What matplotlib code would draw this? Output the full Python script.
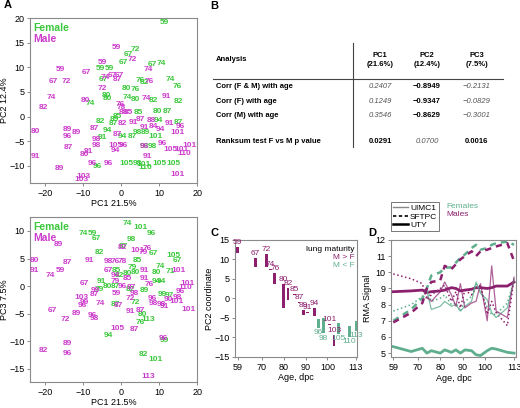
import matplotlib
matplotlib.use("Agg")
import matplotlib.pyplot as plt
from matplotlib.lines import Line2D

plt.rcParams['font.family'] = ['Liberation Sans', 'DejaVu Sans']

# colours
GREEN_A = "#3cc83c"
MAGENTA_A = "#cc3ccc"
PURPLE = "#8c1f6e"
TEAL = "#5fae8e"
SPINE = "#8a8a8a"

# Panel A top: PC1 vs PC2
top_f_x = [11.5, 3.7, 1.8, 0.6, -5.6, -3.1, -4.7, 8.1, 10.6, 13.0, 14.8, 5.0, 6.1, 1.5, 3.7, -4.0, -3.5, 1.5,
           3.7, 8.6, 15.2, -8.2, 9.5, 12.1, 4.6, -0.9, -1.8, -5.6, -2.0, -3.5, 15.2, 9.9, 4.2, 6.5, -4.9, 0.4,
           3.0, 9.0, 8.1, 6.0, -6.2, 1.5, 4.2, 6.0, 6.4, 10.2, 13.8]
top_f_y = [19.1, 13.6, 12.7, 11.0, 9.8, 9.8, 7.6, 10.5, 10.7, 7.6, 6.2, 7.4, 7.0, 5.7, 5.6, 4.2, 3.6, 3.8,
           3.4, 3.3, 3.1, 2.6, 1.0, 1.0, 0.9, 0.0, -0.6, -1.0, -1.5, -2.9, -1.2, -0.8, -3.3, -3.3, -4.2, -4.1,
           -4.0, -4.0, -6.0, -6.0, -10.1, -9.6, -9.5, -9.7, -10.3, -9.5, -9.6]
top_f_lab = ['59', '72', '67', '67', '59', '59', '67', '67', '74', '74', '76', '76', '82', '80', '76', '80', '80', '74',
             '80', '82', '82', '74', '80', '87', '85', '85', '89', '82', '87', '94', '87', '94', '98', '89', '91', '94',
             '87', '101', '98', '98', '96', '105', '98', '101', '110', '105', '105']

top_m_x = [-1.4, 2.8, -4.9, -15.9, -9.3, -17.9, -14.6, 7.1, -4.3, -2.2, -0.4, -1.0, -4.9, 7.4, -18.4, -20.6,
           -9.3, 6.6, 11.8, -0.2, 0.0, 2.0, 0.5, -22.6, -14.1, -11.7, -14.1, -7.1, 0.2, 3.1, 5.0, 8.0, 6.2, 8.6,
           10.4, 12.6, 15.6, 14.8, -6.6, -6.6, -1.0, 6.2, 10.9, 13.1, 16.0, 16.5, 17.9, -1.6, 0.6, -1.6, -13.9,
           -8.7, -9.6, -22.6, -7.5, -3.4, -16.3, 6.8, 14.8, -10.0, -10.4]
top_m_y = [14.0, 11.5, 11.0, 9.5, 8.9, 7.1, 7.1, 9.6, 8.0, 8.4, 8.4, 7.6, 5.7, 7.2, 3.9, 1.8,
           3.2, 3.7, 4.0, 2.5, 1.8, 0.8, 0.9, -3.1, -2.7, -3.2, -4.0, -2.4, -1.5, -1.3, -0.6, -0.9, -2.2, -2.1,
           -2.6, -1.5, -2.0, -3.2, -4.6, -5.8, -3.6, -6.0, -5.4, -6.7, -6.6, -7.5, -5.8, -5.9, -5.9, -6.8, -6.3,
           -7.2, -7.7, -8.2, -9.6, -9.6, -10.6, -8.1, -11.8, -12.1, -12.7]
top_m_lab = ['59', '72', '59', '59', '67', '67', '72', '74', '74', '67', '67', '87', '72', '76', '74', '82',
             '80', '74', '91', '76', '78', '85', '88', '80', '89', '89', '96', '87', '82', '91', '87', '88', '91', '84',
             '94', '91', '96', '101', '98', '98', '87', '96', '96', '105', '101', '110', '101', '105', '96', '94', '87',
             '91', '80', '91', '96', '96', '89', '91', '101', '103', '103']

# Panel A bottom: PC1 vs PC3
bot_f_x = [1.5, 5.0, 7.9, -10.0, -7.5, -6.5, 2.8, -5.7, 0.5, 13.7, 14.8, 8.6, 4.2, 10.2, 13.0, 9.4, 3.0, 3.8,
           -1.2, -0.4, 1.6, -5.1, -3.5, -1.5, 6.1, 9.3, 10.5, 2.4, 10.8, 12.6, -1.6, 3.7, 5.5, 7.2, 5.1, -3.4,
           11.3, 5.9, 9.0, -5.9]
bot_f_y = [11.3, 10.6, 9.6, 9.5, 9.5, 8.6, 8.5, 6.1, 7.2, 5.6, 4.7, 5.9, 4.7, 3.5, 2.7, 2.4, 3.3, 2.5,
           2.8, 2.0, 2.3, 0.8, 0.0, 0.0, -0.8, 0.8, 0.8, -0.7, -1.6, -1.7, -3.4, -3.0, -5.2, -6.0, -6.6, -9.0,
           -9.9, -12.5, -13.4, -0.6]
bot_f_lab = ['74', '101', '96', '74', '59', '67', '98', '82', '87', '105', '67', '67', '85', '74', '71', '80', '79', '80',
             '85', '82', '80', '91', '80', '87', '89', '94', '94', '82', '99', '97', '87', '72', '80', '113', '76', '94',
             '99', '82', '101', '79']

bot_m_x = [-16.6, -22.8, -22.8, -14.2, -8.5, -18.6, -15.9, -9.7, 0.2, 4.2, 6.8, 5.8, -3.4, -1.5, 0.3, -3.4,
           -1.6, 1.5, 6.2, 6.2, 15.2, 17.4, 17.0, 0.3, 2.8, 7.5, -6.9, -10.6, -7.0, -9.6, -10.2, -5.6, -1.3, 2.4,
           3.6, 8.3, 8.4, 10.5, 11.5, 14.7, 15.5, 12.5, 14.5, 17.8, -18.2, -14.8, -11.7, -7.5, -7.2, 2.5, 5.0,
           3.4, -1.1, 11.2, -20.6, -14.1, -14.1, 7.2, -1.6, -0.8]
bot_m_y = [7.5, 4.7, 2.8, 4.2, 4.7, 2.0, 2.8, 0.5, 7.0, 6.5, 6.9, 6.1, 4.4, 4.4, 4.4, 2.8,
           2.0, 1.4, 2.8, 1.4, 2.8, 0.5, -0.2, 0.0, -0.2, 0.2, -0.8, -2.0, -1.5, -2.9, -3.6, -3.1, -1.3, -2.2,
           -1.4, -2.3, -3.2, -3.3, -3.7, -2.0, -1.0, -2.5, -2.8, -4.3, -4.5, -6.1, -4.9, -5.3, -5.8, -4.6, -4.4,
           -7.8, -7.7, -9.5, -11.6, -10.5, -12.2, -16.4, 0.9, -3.6]
bot_m_lab = ['89', '80', '91', '87', '91', '74', '59', '67', '82', '101', '76', '79', '98', '76', '78', '67',
             '94', '85', '91', '91', '101', '101', '110', '96', '87', '76', '99', '103', '87', '99', '96', '74', '59', '72',
             '98', '96', '98', '98', '91', '98', '96', '90', '101', '101', '67', '72', '89', '96', '98', '91', '87',
             '87', '105', '96', '82', '89', '96', '113', '79', '87']

# Panel B table
col_heads = ["PC1\n(21.6%)", "PC2\n(12.4%)", "PC3\n(7.5%)"]
row_names = ["Corr (F & M) with age", "Corr (F) with age", "Corr (M) with age",
             "Ranksum test F vs M p value"]
table_vals = [["0.2407", "\u22120.8949", "\u22120.2131"],
              ["0.1249", "\u22120.9347", "\u22120.0829"],
              ["0.3546", "\u22120.8629", "\u22120.3001"],
              ["0.0291", "0.0700", "0.0016"]]
table_bold = [[False, True, False],
              [False, True, False],
              [False, True, False],
              [True, False, True]]

# Panel C: PC2 coordinate per age
ages = [59, 67, 72, 74, 76, 80, 82, 85, 87, 89, 91, 94, 96, 98, 101, 103, 105, 110, 113]
pc2_f = [11.6, 8.1, 8.1, 7.4, 3.7, -2.4, -0.4, 0.8, -1.2, -4.3, -3.8, -4.5, -5.4, -5.0, -6.8, -12.2, -6.3, -7.1, -5.8]
pc2_m = [13.1, 10.3, 11.3, 7.6, 6.4, 3.6, 2.7, 1.0, -1.0, -3.0, -3.6, -2.6, -7.7, -9.0, -6.6, -9.4, -9.2, -10.0, -8.4]

# Panel D: RMA signal
uty_m = [8.8, 8.85, 8.9, 8.75, 8.8, 8.85, 8.9, 9.05, 9.0, 8.85, 8.9, 8.95, 9.05, 9.05, 9.0, 9.05, 9.15, 9.15, 9.4]
uty_f = [5.4, 5.1, 5.3, 5.0, 5.15, 5.0, 5.2, 5.05, 5.2, 5.0, 5.2, 5.15, 4.9, 4.85, 5.15, 5.3, 5.25, 5.05, 5.0]
sftpc_m = [6.9, 7.5, 8.1, 9.0, 9.4, 9.5, 10.4, 10.2, 10.5, 10.8, 11.0, 11.3, 11.0, 11.3, 11.4, 11.5, 11.6, 11.8, 10.7]
sftpc_f = [7.0, 7.7, 8.4, 9.0, 9.8, 10.0, 10.3, 10.3, 10.6, 10.9, 11.1, 11.5, 11.7, 11.4, 11.5, 11.7, 11.8, 11.9, 11.7]
uimc1_m = [9.9, 9.6, 9.4, 8.5, 8.2, 8.8, 9.4, 8.6, 7.9, 9.3, 7.8, 8.1, 8.2, 9.3, 7.0, 10.4, 7.6, 7.2, 9.7]
uimc1_f = [7.6, 8.0, 8.5, 8.9, 7.7, 7.9, 8.2, 7.9, 8.0, 7.6, 7.9, 8.2, 9.4, 8.7, 8.3, 7.5, 7.2, 7.8, 9.6]
uimc1b_m = [9.9, 9.6, 9.3, 8.3, 8.6, 9.0, 9.2, 8.2, 8.8, 7.8, 8.9, 8.6, 9.0, 9.2, 7.4, 8.2, 7.5, 6.7, 9.6]
uimc1b_f = [7.6, 8.0, 8.5, 9.0, 8.2, 8.4, 8.6, 8.0, 8.1, 7.6, 8.2, 8.5, 9.3, 8.9, 7.8, 7.4, 7.4, 8.1, 9.5]

age_ticks = [59, 70, 80, 90, 100, 113]

fig = plt.figure(figsize=(5.2, 4.08), dpi=100)


def style_axes(ax, size=7):
    for s in ax.spines.values():
        s.set_color(SPINE)
        s.set_linewidth(0.8)
    ax.tick_params(labelsize=size, length=2.5, width=0.7, color=SPINE, pad=1.5)


def pca_panel(ax, fx, fy, flab, mx, my, mlab, ylim, ylabel, yticks):
    for x, y, t in zip(fx, fy, flab):
        ax.text(x, y, t, color=GREEN_A, fontsize=6, fontweight='bold', ha='center', va='center')
    for x, y, t in zip(mx, my, mlab):
        ax.text(x, y, t, color=MAGENTA_A, fontsize=6, fontweight='bold', ha='center', va='center')
    ax.set_xlim(-24, 20)
    ax.set_ylim(*ylim)
    ax.set_xticks([-20, -10, 0, 10, 20])
    ax.set_yticks(yticks)
    ax.set_xlabel("PC1 21.5%", fontsize=6.5)
    ax.set_ylabel(ylabel, fontsize=6.5)
    ax.xaxis.set_label_coords(0.5, -0.1)
    ax.yaxis.set_label_coords(-0.125, 0.5)
    ax.text(0.02, 0.94, "Female", transform=ax.transAxes, color=GREEN_A, fontsize=7.5,
            fontweight='bold', va='center')
    ax.text(0.02, 0.875, "Male", transform=ax.transAxes, color=MAGENTA_A, fontsize=7.5,
            fontweight='bold', va='center')
    style_axes(ax, 6.5)


# Panel A
axA1 = fig.add_axes([0.058, 0.5515, 0.321, 0.404])
pca_panel(axA1, top_f_x, top_f_y, top_f_lab, top_m_x, top_m_y, top_m_lab,
          (-13.5, 20), "PC2 12.4%", [-10, -5, 0, 5, 10, 15, 20])
axA2 = fig.add_axes([0.058, 0.0637, 0.321, 0.404])
pca_panel(axA2, bot_f_x, bot_f_y, bot_f_lab, bot_m_x, bot_m_y, bot_m_lab,
          (-17.4, 12.5), "PC3 7.5%", [-15, -10, -5, 0, 5, 10])

# Panel B - table drawn as text
col_x = [0.731, 0.821, 0.917]
row_y = [0.787, 0.752, 0.716, 0.654]
fig.text(0.415, 0.853, "Analysis", fontsize=5.5, fontweight='bold', va='center')
for cx, h in zip(col_x, col_heads):
    fig.text(cx, 0.853, h, fontsize=5.5, fontweight='bold', ha='center', va='center', linespacing=1.3)
for ry, name, vals, bolds in zip(row_y, row_names, table_vals, table_bold):
    fig.text(0.415, ry, name, fontsize=5.5, fontweight='bold', va='center')
    for cx, v, b in zip(col_x, vals, bolds):
        if b:
            fig.text(cx, ry, v, fontsize=5.5, fontweight='bold', ha='center', va='center')
        else:
            fig.text(cx, ry, v, fontsize=5.5, style='italic', color='#555555', ha='center', va='center')
fig.add_artist(Line2D([0.679, 0.679], [0.640, 0.895], color='#444444', lw=0.8))
fig.add_artist(Line2D([0.41, 0.967], [0.806, 0.806], color='#444444', lw=0.8))

# Panel C
axC = fig.add_axes([0.452, 0.1238, 0.2346, 0.288])
for a, f, m in zip(ages, pc2_f, pc2_m):
    col = PURPLE if m >= f else TEAL
    axC.bar(a, abs(m - f), bottom=min(f, m), width=1.3, color=col)
    if m >= f:
        axC.text(a, max(f, m) + 0.3, str(a), color=col, fontsize=6, ha='center', va='bottom')
    else:
        axC.text(a, min(f, m) - 0.3, str(a), color=col, fontsize=6, ha='center', va='top')
axC.set_xlim(57.8, 113.5)
axC.set_ylim(-15.2, 15)
axC.set_xticks(age_ticks)
axC.set_yticks([-15, -10, -5, 0, 5, 10, 15])
axC.set_xlabel("Age, dpc", fontsize=6.5)
axC.set_ylabel("PC2 coordinate", fontsize=6.5)
axC.xaxis.set_label_coords(0.5, -0.13)
axC.yaxis.set_label_coords(-0.17, 0.5)
axC.text(0.98, 0.92, "lung maturity", transform=axC.transAxes, fontsize=6, ha='right', va='center')
axC.text(0.98, 0.85, "M > F", transform=axC.transAxes, fontsize=6, color=PURPLE, ha='right', va='center')
axC.text(0.98, 0.78, "M < F", transform=axC.transAxes, fontsize=6, color=TEAL, ha='right', va='center')
style_axes(axC, 6.5)

# Panel D
axD = fig.add_axes([0.752, 0.1238, 0.240, 0.288])
axD.plot(ages, uty_f, color=TEAL, lw=2.0)
axD.plot(ages, uty_m, color=PURPLE, lw=2.0)
axD.plot(ages, uimc1b_f, color=TEAL, lw=1.1, ls=':')
axD.plot(ages, uimc1b_m, color=PURPLE, lw=1.1, ls=':')
axD.plot(ages[3:], uimc1_f[3:], color=TEAL, lw=0.9, alpha=0.8)
axD.plot(ages[3:], uimc1_m[3:], color=PURPLE, lw=0.9, alpha=0.7)
axD.plot(ages, sftpc_f, color=TEAL, lw=1.8, ls=(0, (2.5, 2)))
axD.plot(ages, sftpc_m, color=PURPLE, lw=1.8, ls=(0, (2.5, 2)))
axD.set_xlim(58.0, 113.8)
axD.set_ylim(4.73, 12.0)
axD.set_xticks(age_ticks)
axD.set_yticks([5, 6, 7, 8, 9, 10, 11, 12])
axD.set_xlabel("Age, dpc", fontsize=6.5)
axD.set_ylabel("RMA Signal", fontsize=6.5)
axD.xaxis.set_label_coords(0.5, -0.14)
axD.yaxis.set_label_coords(-0.15, 0.5)
style_axes(axD, 6.5)

handles = [Line2D([], [], color='#888888', lw=1.0),
           Line2D([], [], color='black', lw=1.2, ls=(0, (2, 1.5))),
           Line2D([], [], color='black', lw=1.8)]
leg = fig.legend(handles, ["UIMC1", "SFTPC", "UTY"], loc='upper left',
                 bbox_to_anchor=(0.751, 0.505), fontsize=6, frameon=True, fancybox=False,
                 handlelength=1.8, handletextpad=0.3, borderpad=0.25, labelspacing=0.1,
                 borderaxespad=0)
leg.get_frame().set_edgecolor('#555555')
leg.get_frame().set_linewidth(0.7)
fig.text(0.859, 0.493, "Females", fontsize=6, color=TEAL, va='center')
fig.text(0.859, 0.475, "Males", fontsize=6, color=PURPLE, va='center')

# Panel letters
for lx, ly, letter in [(0.008, 0.988, "A"), (0.404, 0.985, "B"), (0.404, 0.43, "C"), (0.708, 0.43, "D")]:
    fig.text(lx, ly, letter, fontsize=8, fontweight='bold', va='center')

fig.savefig("out.png", dpi=100)
